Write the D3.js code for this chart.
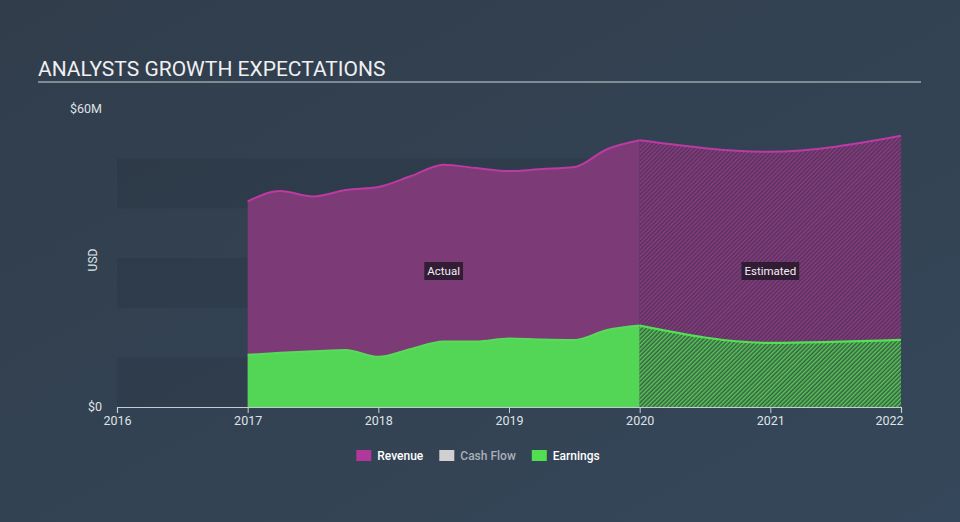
<!DOCTYPE html>
<html>
<head>
<meta charset="utf-8">
<script src="https://cdn.jsdelivr.net/npm/d3@7"></script>
<style>
  html, body { margin: 0; padding: 0; background: #333f4e; }
  svg { display: block; font-family: Roboto, "Open Sans", sans-serif; }
</style>
</head>
<body>
<svg id="chart" width="960" height="522"></svg>
<script>
// ---- data (USD millions) ----
const actualDates = [2017, 2017.25, 2017.5, 2017.75, 2018, 2018.25, 2018.5, 2018.75, 2019, 2019.25, 2019.5, 2019.75, 2020];
const revenueActual = [41.4, 43.5, 42.4, 43.7, 44.3, 46.5, 48.8, 48.1, 47.5, 47.9, 48.3, 51.9, 53.7];
const earningsActual = [10.5, 10.9, 11.2, 11.5, 10.1, 11.7, 13.2, 13.2, 13.8, 13.6, 13.5, 15.5, 16.4];
const estimateDates = [2020, 2021, 2022];
const revenueEstimate = [53.7, 51.4, 54.6];
const earningsEstimate = [16.4, 12.9, 13.5];
const xTicks = [2016, 2017, 2018, 2019, 2020, 2021, 2022];
const yTickValues = [0, 60];
const yTickLabels = ["$0", "$60M"];
const bandStarts = [0, 20, 40];
const legendItems = ["Revenue", "Cash Flow", "Earnings"];

const svg = d3.select("#chart");
const W = 960, H = 522;

// background gradient
const defs = svg.append("defs");
const bg = defs.append("linearGradient").attr("id", "bg").attr("x1", "0").attr("y1", "0").attr("x2", "1").attr("y2", "1");
bg.append("stop").attr("offset", "0%").attr("stop-color", "#313d4b");
bg.append("stop").attr("offset", "100%").attr("stop-color", "#35475a");
svg.append("rect").attr("width", W).attr("height", H).attr("fill", "url(#bg)");

function hatch(id, base, line) {
  const p = defs.append("pattern").attr("id", id).attr("patternUnits", "userSpaceOnUse")
    .attr("width", 3).attr("height", 3).attr("patternTransform", "rotate(45)");
  p.append("rect").attr("width", 3).attr("height", 3).attr("fill", base);
  p.append("line").attr("x1", 0.75).attr("y1", 0).attr("x2", 0.75).attr("y2", 3)
    .attr("stroke", line).attr("stroke-width", 1.4);
}
hatch("hatchRev", "#563258", "#8a3d86");
hatch("hatchEarn", "#3c5a46", "#53d255");

const x = d3.scaleLinear().domain([2016, 2022]).range([117, 901]);
const y = d3.scaleLinear().domain([0, 60]).range([407, 109]);

// title
svg.append("text").attr("x", 38).attr("y", 76).attr("fill", "#eef0f2")
  .attr("font-size", 21).text("ANALYSTS GROWTH EXPECTATIONS");
svg.append("line").attr("x1", 38).attr("x2", 921).attr("y1", 82).attr("y2", 82)
  .attr("stroke", "#9aa4ae").attr("stroke-width", 1.5);

// bands
svg.append("g").selectAll("rect").data(bandStarts).join("rect")
  .attr("x", x(2016)).attr("width", x(2022) - x(2016))
  .attr("y", d => y(d + 10)).attr("height", d => y(d) - y(d + 10))
  .attr("fill", "#000").attr("fill-opacity", 0.07);

// y labels
svg.append("g").selectAll("text").data(yTickValues).join("text")
  .attr("x", 102).attr("y", d => y(d)).attr("dy", "0.35em")
  .attr("text-anchor", "end").attr("fill", "#dfe3e7").attr("font-size", 12.5)
  .text((d, i) => yTickLabels[i]);
svg.append("text").attr("transform", `translate(97,${(y(0) + y(60)) / 2 + 2}) rotate(-90)`)
  .attr("text-anchor", "middle").attr("fill", "#dfe3e7").attr("font-size", 12).text("USD");

const actualRev = actualDates.map((d, i) => [d, revenueActual[i]]);
const actualEarn = actualDates.map((d, i) => [d, earningsActual[i]]);
const estRev = estimateDates.map((d, i) => [d, revenueEstimate[i]]);
const estEarn = estimateDates.map((d, i) => [d, earningsEstimate[i]]);

const area = d3.area().x(d => x(d[0])).y0(y(0)).y1(d => y(d[1])).curve(d3.curveMonotoneX);
const line = d3.line().x(d => x(d[0])).y(d => y(d[1])).curve(d3.curveMonotoneX);

// revenue
svg.append("path").attr("d", area(actualRev)).attr("fill", "#7c3a76");
svg.append("path").attr("d", area(estRev)).attr("fill", "url(#hatchRev)");
svg.append("path").attr("d", line(actualRev)).attr("fill", "none").attr("stroke", "#bd3aa3").attr("stroke-width", 2);
svg.append("path").attr("d", line(estRev)).attr("fill", "none").attr("stroke", "#bd3aa3").attr("stroke-width", 2);

// earnings
svg.append("path").attr("d", area(actualEarn)).attr("fill", "#53d656");
svg.append("path").attr("d", area(estEarn)).attr("fill", "url(#hatchEarn)");
svg.append("path").attr("d", line(actualEarn)).attr("fill", "none").attr("stroke", "#57dc59").attr("stroke-width", 2);
svg.append("path").attr("d", line(estEarn)).attr("fill", "none").attr("stroke", "#52e055").attr("stroke-width", 2.2);

// Actual / Estimated labels
function tag(cx, label) {
  const g = svg.append("g");
  const t = g.append("text").attr("x", cx).attr("y", 271).attr("dy", "0.35em")
    .attr("text-anchor", "middle").attr("fill", "#f1eef2").attr("font-size", 11.5).text(label);
  const w = t.node().getComputedTextLength();
  g.insert("rect", "text").attr("x", cx - w / 2 - 3).attr("y", 262).attr("width", w + 6).attr("height", 18)
    .attr("fill", "#27182a").attr("fill-opacity", 0.85);
}
tag((x(2017) + x(2020)) / 2, "Actual");
tag((x(2020) + x(2022)) / 2, "Estimated");

// x axis
const xAxis = d3.axisBottom(x).tickValues(xTicks).tickFormat(d3.format("d")).tickSize(6).tickPadding(3);
const ax = svg.append("g").attr("transform", `translate(0,${y(0)})`).call(xAxis);
ax.select(".domain").attr("stroke", "#c5ccd3").attr("stroke-width", 1.2);
ax.selectAll(".tick line").attr("stroke", "#c5ccd3");
ax.selectAll(".tick text").attr("fill", "#dfe3e7").attr("font-size", 12.5).attr("font-family", "Roboto, sans-serif");
ax.selectAll(".tick text").filter(d => d === 2022).attr("text-anchor", "end").attr("dx", 2);

// legend
const legendColors = ["#b2379a", "#d0d0d0", "#50df50"];
const legendText = ["#ffffff", "#a9b0b8", "#ffffff"];
const lg = svg.append("g");
let lx = 0;
legendItems.forEach((name, i) => {
  lg.append("rect").attr("x", lx).attr("y", 450).attr("width", 15).attr("height", 11).attr("fill", legendColors[i]);
  const t = lg.append("text").attr("x", lx + 21).attr("y", 456).attr("dy", "0.35em")
    .attr("fill", legendText[i]).attr("font-size", 12).attr("font-weight", 500).text(name);
  lx += 21 + t.node().getComputedTextLength() + 16;
});
const total = lx - 16;
lg.attr("transform", `translate(${478 - total / 2},0)`);
</script>
</body>
</html>
